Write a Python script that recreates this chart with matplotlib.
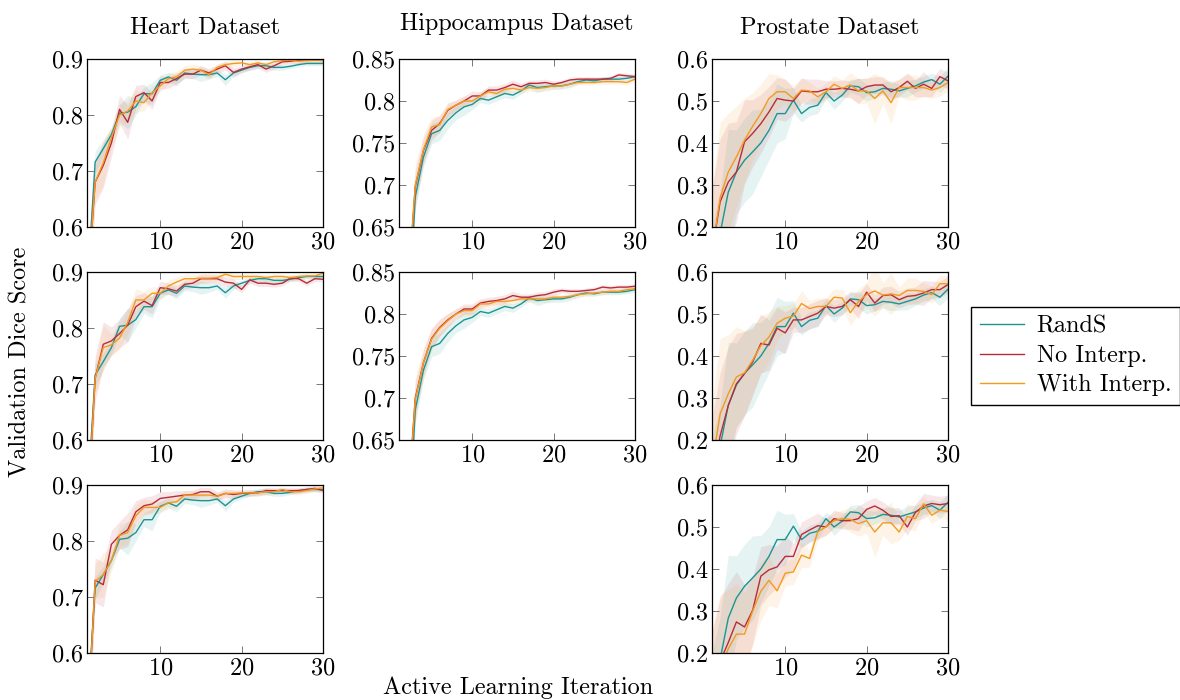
import matplotlib
matplotlib.use('Agg')
import matplotlib.pyplot as plt
from matplotlib.ticker import FuncFormatter

plt.rcParams['font.family'] = 'serif'
plt.rcParams['font.serif'] = ['cmr10']
plt.rcParams['mathtext.fontset'] = 'cm'
plt.rcParams['axes.formatter.use_mathtext'] = True

# x axis: active learning iteration
iters = list(range(1, 31))

# Heart dataset (RandS is the same baseline in every row)
heart_rands = [0.48, 0.716, 0.74, 0.765, 0.803, 0.805, 0.815, 0.838, 0.838, 0.862, 0.868, 0.862, 0.875, 0.873, 0.872,
               0.872, 0.875, 0.863, 0.875, 0.88, 0.885, 0.888, 0.888, 0.885, 0.885, 0.887, 0.89, 0.892, 0.892, 0.892]
heart_noint_r0 = [0.47, 0.68, 0.71, 0.75, 0.81, 0.787, 0.833, 0.84, 0.825, 0.858, 0.858, 0.865, 0.873, 0.873, 0.88,
                  0.875, 0.882, 0.888, 0.876, 0.882, 0.886, 0.89, 0.882, 0.888, 0.895, 0.896, 0.898, 0.898, 0.898, 0.898]
heart_with_r0 = [0.48, 0.68, 0.715, 0.76, 0.80, 0.807, 0.825, 0.822, 0.84, 0.852, 0.865, 0.868, 0.88, 0.882, 0.88,
                 0.872, 0.885, 0.89, 0.892, 0.893, 0.89, 0.893, 0.89, 0.895, 0.897, 0.898, 0.896, 0.897, 0.898, 0.897]
heart_noint_r1 = [0.45, 0.71, 0.771, 0.777, 0.79, 0.805, 0.838, 0.848, 0.84, 0.872, 0.87, 0.866, 0.878, 0.88, 0.888,
                  0.888, 0.888, 0.882, 0.88, 0.869, 0.886, 0.88, 0.88, 0.878, 0.88, 0.889, 0.888, 0.88, 0.888, 0.887]
heart_with_r1 = [0.45, 0.71, 0.765, 0.77, 0.782, 0.81, 0.85, 0.85, 0.862, 0.862, 0.875, 0.882, 0.888, 0.888, 0.889,
                 0.889, 0.89, 0.896, 0.892, 0.892, 0.892, 0.892, 0.89, 0.892, 0.892, 0.89, 0.892, 0.893, 0.893, 0.898]
heart_noint_r2 = [0.45, 0.73, 0.722, 0.794, 0.81, 0.82, 0.852, 0.863, 0.866, 0.876, 0.878, 0.88, 0.882, 0.883, 0.888,
                  0.888, 0.88, 0.885, 0.883, 0.885, 0.886, 0.886, 0.89, 0.89, 0.89, 0.89, 0.89, 0.892, 0.894, 0.89]
heart_with_r2 = [0.45, 0.728, 0.74, 0.765, 0.81, 0.815, 0.845, 0.86, 0.86, 0.86, 0.868, 0.87, 0.882, 0.882, 0.882,
                 0.882, 0.88, 0.885, 0.885, 0.886, 0.886, 0.886, 0.888, 0.888, 0.892, 0.888, 0.888, 0.89, 0.893, 0.895]

# Hippocampus dataset
hippo_rands = [0.3, 0.506, 0.686, 0.733, 0.761, 0.765, 0.777, 0.786, 0.793, 0.796, 0.803, 0.801, 0.805, 0.809, 0.807,
               0.812, 0.819, 0.816, 0.817, 0.818, 0.818, 0.82, 0.823, 0.825, 0.824, 0.826, 0.826, 0.826, 0.827, 0.829]
hippo_noint_r0 = [0.35, 0.56, 0.698, 0.741, 0.765, 0.773, 0.789, 0.795, 0.80, 0.806, 0.806, 0.813, 0.813, 0.816, 0.82,
                  0.817, 0.821, 0.821, 0.822, 0.82, 0.822, 0.825, 0.826, 0.826, 0.826, 0.826, 0.827, 0.831, 0.83, 0.829]
hippo_with_r0 = [0.35, 0.56, 0.70, 0.742, 0.769, 0.772, 0.79, 0.795, 0.80, 0.80, 0.806, 0.811, 0.809, 0.814, 0.815,
                 0.813, 0.816, 0.815, 0.816, 0.818, 0.818, 0.82, 0.822, 0.822, 0.822, 0.823, 0.823, 0.823, 0.822, 0.826]
hippo_noint_r1 = [0.35, 0.56, 0.70, 0.742, 0.771, 0.784, 0.793, 0.80, 0.806, 0.806, 0.813, 0.815, 0.816, 0.818, 0.822,
                  0.82, 0.82, 0.822, 0.823, 0.826, 0.828, 0.827, 0.827, 0.828, 0.829, 0.832, 0.831, 0.832, 0.832, 0.833]
hippo_with_r1 = [0.35, 0.56, 0.698, 0.742, 0.77, 0.783, 0.792, 0.80, 0.804, 0.804, 0.812, 0.812, 0.815, 0.815, 0.816,
                 0.818, 0.818, 0.818, 0.818, 0.82, 0.82, 0.821, 0.823, 0.824, 0.825, 0.826, 0.827, 0.827, 0.829, 0.83]

# Prostate dataset
prost_rands = [0.1, 0.185, 0.283, 0.331, 0.359, 0.379, 0.40, 0.43, 0.47, 0.47, 0.502, 0.47, 0.485, 0.49, 0.52,
               0.50, 0.514, 0.536, 0.534, 0.52, 0.522, 0.53, 0.528, 0.524, 0.53, 0.536, 0.545, 0.551, 0.54, 0.559]
prost_noint_r0 = [0.14, 0.26, 0.307, 0.331, 0.403, 0.423, 0.446, 0.474, 0.506, 0.502, 0.50, 0.524, 0.522, 0.522, 0.528,
                  0.528, 0.53, 0.528, 0.524, 0.534, 0.538, 0.538, 0.522, 0.532, 0.547, 0.53, 0.54, 0.53, 0.558, 0.548]
prost_with_r0 = [0.14, 0.27, 0.331, 0.367, 0.407, 0.44, 0.47, 0.506, 0.522, 0.522, 0.506, 0.526, 0.524, 0.51, 0.522,
                 0.54, 0.53, 0.538, 0.524, 0.524, 0.506, 0.524, 0.496, 0.532, 0.532, 0.532, 0.532, 0.526, 0.532, 0.544]
prost_noint_r1 = [0.1, 0.21, 0.282, 0.334, 0.358, 0.386, 0.43, 0.426, 0.466, 0.455, 0.486, 0.486, 0.494, 0.502, 0.518,
                  0.514, 0.518, 0.534, 0.518, 0.552, 0.526, 0.544, 0.546, 0.534, 0.542, 0.544, 0.55, 0.558, 0.558, 0.57]
prost_with_r1 = [0.14, 0.262, 0.31, 0.35, 0.36, 0.39, 0.425, 0.445, 0.478, 0.49, 0.495, 0.525, 0.513, 0.518, 0.518,
                 0.54, 0.538, 0.503, 0.53, 0.546, 0.555, 0.545, 0.548, 0.544, 0.556, 0.556, 0.554, 0.546, 0.572, 0.572]
prost_noint_r2 = [0.1, 0.18, 0.225, 0.274, 0.262, 0.302, 0.383, 0.398, 0.405, 0.43, 0.43, 0.482, 0.493, 0.503, 0.50,
                  0.52, 0.515, 0.515, 0.52, 0.542, 0.55, 0.54, 0.525, 0.527, 0.50, 0.535, 0.55, 0.556, 0.553, 0.556]
prost_with_r2 = [0.1, 0.16, 0.21, 0.245, 0.245, 0.30, 0.347, 0.373, 0.348, 0.39, 0.393, 0.433, 0.425, 0.489, 0.50,
                 0.515, 0.52, 0.518, 0.508, 0.515, 0.488, 0.51, 0.51, 0.488, 0.525, 0.52, 0.555, 0.528, 0.54, 0.537]

# half widths of the shaded bands (per dataset and method)
heart_sd_rands = [0.05, 0.02, 0.015, 0.012, 0.015, 0.03, 0.015, 0.012, 0.02, 0.01, 0.008, 0.01, 0.008, 0.008, 0.012,
                  0.008, 0.006, 0.01, 0.006, 0.005, 0.005, 0.005, 0.006, 0.005, 0.005, 0.004, 0.004, 0.004, 0.004, 0.004]
heart_sd_noint = [0.06, 0.04, 0.04, 0.025, 0.025, 0.03, 0.02, 0.015, 0.015, 0.012, 0.01, 0.01, 0.008, 0.008, 0.008,
                  0.008, 0.008, 0.008, 0.008, 0.006, 0.006, 0.006, 0.006, 0.005, 0.005, 0.005, 0.005, 0.005, 0.005, 0.005]
heart_sd_with = [0.06, 0.03, 0.04, 0.02, 0.02, 0.02, 0.02, 0.015, 0.012, 0.01, 0.01, 0.01, 0.008, 0.008, 0.008,
                 0.008, 0.006, 0.006, 0.006, 0.005, 0.005, 0.005, 0.005, 0.005, 0.005, 0.005, 0.005, 0.005, 0.005, 0.005]
hippo_sd_rands = [0.03, 0.02, 0.015, 0.012, 0.012, 0.012, 0.01, 0.008, 0.01, 0.006, 0.005, 0.005, 0.005, 0.005, 0.005,
                  0.004, 0.004, 0.006, 0.004, 0.004, 0.004, 0.004, 0.003, 0.003, 0.003, 0.003, 0.003, 0.003, 0.003, 0.003]
hippo_sd_noint = [0.04, 0.03, 0.02, 0.015, 0.012, 0.01, 0.008, 0.006, 0.006, 0.006, 0.005, 0.005, 0.005, 0.005, 0.005,
                  0.004, 0.004, 0.004, 0.004, 0.004, 0.003, 0.003, 0.003, 0.003, 0.003, 0.003, 0.003, 0.003, 0.003, 0.003]
hippo_sd_with = [0.04, 0.03, 0.025, 0.018, 0.012, 0.01, 0.008, 0.006, 0.006, 0.006, 0.005, 0.005, 0.005, 0.005, 0.005,
                 0.004, 0.004, 0.004, 0.004, 0.004, 0.003, 0.003, 0.003, 0.003, 0.003, 0.003, 0.003, 0.003, 0.003, 0.003]
prost_sd_rands = [0.1, 0.1, 0.15, 0.1, 0.1, 0.1, 0.08, 0.07, 0.07, 0.06, 0.03, 0.02, 0.02, 0.02, 0.015,
                  0.02, 0.015, 0.015, 0.02, 0.02, 0.015, 0.015, 0.02, 0.015, 0.02, 0.015, 0.015, 0.015, 0.02, 0.02]
prost_sd_noint = [0.15, 0.15, 0.14, 0.12, 0.1, 0.08, 0.07, 0.06, 0.05, 0.05, 0.03, 0.03, 0.03, 0.03, 0.02,
                  0.02, 0.02, 0.02, 0.03, 0.02, 0.02, 0.02, 0.02, 0.02, 0.02, 0.02, 0.03, 0.02, 0.02, 0.02]
prost_sd_with = [0.15, 0.18, 0.14, 0.12, 0.1, 0.08, 0.07, 0.06, 0.04, 0.03, 0.03, 0.03, 0.02, 0.02, 0.02,
                 0.02, 0.02, 0.03, 0.03, 0.03, 0.06, 0.03, 0.05, 0.02, 0.03, 0.03, 0.02, 0.02, 0.02, 0.02]

titles = ['Heart Dataset', 'Hippocampus Dataset', 'Prostate Dataset']
labels = ['RandS', 'No Interp.', 'With Interp.']
colors = ['#1b9594', '#b82c3a', '#f39a1f']

ylims = [(0.6, 0.9), (0.65, 0.85), (0.2, 0.6)]
yticks = [[0.6, 0.7, 0.8, 0.9], [0.65, 0.7, 0.75, 0.8, 0.85], [0.2, 0.3, 0.4, 0.5, 0.6]]

rands = [heart_rands, hippo_rands, prost_rands]
spreads = [[heart_sd_rands, heart_sd_noint, heart_sd_with],
           [hippo_sd_rands, hippo_sd_noint, hippo_sd_with],
           [prost_sd_rands, prost_sd_noint, prost_sd_with]]
panels = {
    (0, 0): (heart_noint_r0, heart_with_r0),
    (1, 0): (heart_noint_r1, heart_with_r1),
    (2, 0): (heart_noint_r2, heart_with_r2),
    (0, 1): (hippo_noint_r0, hippo_with_r0),
    (1, 1): (hippo_noint_r1, hippo_with_r1),
    (0, 2): (prost_noint_r0, prost_with_r0),
    (1, 2): (prost_noint_r1, prost_with_r1),
    (2, 2): (prost_noint_r2, prost_with_r2),
}

FS = 17.5
fig = plt.figure(figsize=(11.8, 7.0), dpi=100)

W, H = 1180.0, 700.0
col_left = [87, 399, 712]
row_top = [59, 272, 485]
ax_w, ax_h = 236, 168

handles = []
for (r, c), (noint, withi) in panels.items():
    ax = fig.add_axes([col_left[c] / W, 1 - (row_top[r] + ax_h) / H, ax_w / W, ax_h / H])
    series = [rands[c], noint, withi]
    for k in range(3):
        lo = [m - s for m, s in zip(series[k], spreads[c][k])]
        hi = [m + s for m, s in zip(series[k], spreads[c][k])]
        ax.fill_between(iters, lo, hi, color=colors[k], alpha=0.11, linewidth=0)
    for k in range(3):
        ln, = ax.plot(iters, series[k], color=colors[k], linewidth=1.0, label=labels[k])
        if (r, c) == (0, 0):
            handles.append(ln)
    ax.set_xlim(1, 30)
    ax.set_ylim(*ylims[c])
    ax.set_xticks([10, 20, 30])
    ax.set_yticks(yticks[c])
    ax.yaxis.set_major_formatter(FuncFormatter(lambda v, p: '%g' % round(v, 3)))
    ax.tick_params(direction='in', top=True, right=True, length=5, width=0.7,
                   color='#777777', labelsize=FS, pad=3)
    for sp in ax.spines.values():
        sp.set_linewidth(0.9)
    if r == 0:
        ax.set_title(titles[c], fontsize=FS, pad=21 if c == 1 else 18)

fig.legend(handles=handles, labels=labels, loc='upper left',
           bbox_to_anchor=(971 / W, 1 - 307 / H), borderaxespad=0, frameon=True, fancybox=False,
           edgecolor='black', framealpha=1, fontsize=FS, handlelength=1.85,
           labelspacing=0.3, borderpad=0.35, handletextpad=0.5)

fig.text(518 / W, 1 - 688 / H, 'Active Learning Iteration', ha='center', va='center', fontsize=FS)
fig.text(20 / W, 1 - 362 / H, 'Validation Dice Score', ha='center', va='center', rotation=90, fontsize=FS)

fig.savefig('out.png', dpi=100)
